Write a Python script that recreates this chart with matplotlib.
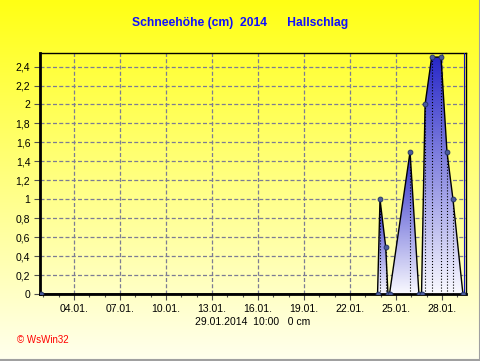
import numpy as np
import matplotlib
matplotlib.use("Agg")
import matplotlib.pyplot as plt
from matplotlib.ticker import MultipleLocator

plt.rcParams['font.family'] = ['Liberation Sans', 'DejaVu Sans']

# snow depth (cm), x = day of January 2014 (fractional)
days = [1.85, 23.80, 23.96, 24.33, 24.48, 24.58, 25.92, 26.50, 26.67,
        26.90, 27.33, 27.94, 28.33, 28.72, 29.37]
snow = [0, 0, 1.0, 0.5, 0, 0, 1.5, 0, 0, 2.0, 2.5, 2.5, 1.5, 1.0, 0]

tick_days = [4, 7, 10, 13, 16, 19, 22, 25, 28]
tick_labels = ["04.01.", "07.01.", "10.01.", "13.01.", "16.01.",
               "19.01.", "22.01.", "25.01.", "28.01."]
y_ticks = [0, 0.2, 0.4, 0.6, 0.8, 1, 1.2, 1.4, 1.6, 1.8, 2, 2.2, 2.4]
y_labels = ["0", "0,2", "0,4", "0,6", "0,8", "1", "1,2", "1,4", "1,6",
            "1,8", "2", "2,2", "2,4"]

W, H = 481, 361
fig = plt.figure(figsize=(W / 100, H / 100), dpi=100)

# background gradient yellow -> cream
bg = fig.add_axes([0, 0, 1, 1])
t = np.linspace(0, 1, 256)[:, None]
top = np.array([255, 255, 20]) / 255
bot = np.array([255, 255, 238]) / 255
grad = top[None, None, :] * (1 - t[..., None]) + bot[None, None, :] * t[..., None]
grad = np.repeat(grad, 2, axis=1)
bg.imshow(grad, aspect='auto', extent=[0, 1, 0, 1])
bg.plot([0.997, 0.997], [0.003, 1], color='#a0a0a0', lw=1.5)
bg.plot([0, 0.997], [0.003, 0.003], color='#a0a0a0', lw=1.5)
bg.set_xlim(0, 1)
bg.set_ylim(0, 1)
bg.axis('off')

x0, x1 = 40, 466
y0, y1 = 294, 53.3
xmin, xmax, ymax = 1.78, 29.57, 2.54
ax = fig.add_axes([x0 / W, (H - y0) / H, (x1 - x0) / W, (y0 - y1) / H])
ax.set_facecolor('none')

ax.grid(True, which='major', color='#7c7c94', ls=(0, (3.2, 1.8)), lw=0.9)

# gradient fill under each snow period (blue at its top, white at ground)
d = np.array(days)
s = np.array(snow)
g = np.linspace(1, 0, 256)[:, None]
blue = np.array([40, 40, 200]) / 255
white = np.array([250, 250, 255]) / 255
fg = blue[None, None, :] * g[..., None] + white[None, None, :] * (1 - g[..., None])
fg = np.repeat(fg, 2, axis=1)
i = 0
while i < len(s):
    if s[i] > 0:
        j = i
        while j < len(s) and s[j] > 0:
            j += 1
        seg = slice(i - 1, j + 1)
        fill = ax.fill_between(d[seg], s[seg], 0, color='none', lw=0)
        im = ax.imshow(fg, aspect='auto',
                       extent=[d[i - 1], d[j], 0, s[i:j].max()], zorder=2)
        im.set_clip_path(fill.get_paths()[0], transform=ax.transData)
        i = j
    else:
        i += 1

for xv, yv in zip(days, snow):
    if yv > 0:
        ax.plot([xv, xv], [0, yv], color='black', ls=':', lw=0.8, zorder=3)

ax.plot(days, snow, color='black', lw=1.0, zorder=4)
ax.plot(days, snow, ls='none', marker='o', ms=3.5, mfc='#4a5a9a',
        mec='#203060', mew=0.6, zorder=5)
ax.axvline(29.42, color='#1010c0', lw=0.8, zorder=4)

ax.set_xlim(xmin, xmax)
ax.set_ylim(0, ymax)
ax.set_xticks(tick_days)
ax.set_xticklabels(tick_labels, fontsize=7.5)
ax.xaxis.set_minor_locator(MultipleLocator(1))
ax.set_yticks(y_ticks)
ax.set_yticklabels(y_labels, fontsize=7.5)
ax.tick_params(axis='both', which='major', length=4, width=0.8, color='#505050', pad=3)
ax.tick_params(axis='x', which='minor', length=2.5, width=0.8, color='#505050')
for side in ['top', 'right']:
    ax.spines[side].set_linewidth(1.0)
for side in ['left', 'bottom']:
    ax.spines[side].set_linewidth(2.0)

fig.text(240 / W, 1 - 23 / H, "Schneehöhe (cm)  2014      Hallschlag",
         color='#1010ff', fontsize=8.7, fontweight='bold', ha='center', va='center')
fig.text(253 / W, 1 - 322 / H, "29.01.2014  10:00   0 cm",
         fontsize=7.5, ha='center', va='center')
fig.text(17 / W, 1 - 340 / H, "© WsWin32", color='red', fontsize=7,
         ha='left', va='center')

fig.savefig('out.png', dpi=100)
